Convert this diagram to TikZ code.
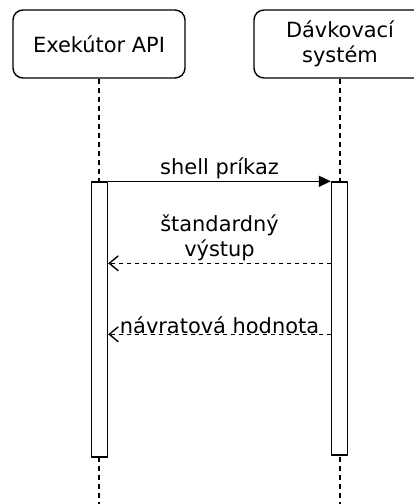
\documentclass[tikz,border=0pt]{standalone}
\usepackage{fontspec}
\setmainfont{DejaVu Sans}
\usetikzlibrary{arrows.meta}
\usetikzlibrary{shapes}

\tikzset{
  actor/.style={draw,rectangle,rounded corners=10bp,line width=1.4bp,minimum width=172bp,minimum height=68bp,align=center,font=\fontsize{21}{25}\selectfont},
  lifeline/.style={line width=1.4bp,dash pattern=on 5bp off 4bp},
  activation/.style={draw,fill=white,rectangle,line width=1.4bp,minimum width=16bp,minimum height=275bp,inner sep=0pt},
  callmsg/.style={line width=1.4bp,-{Triangle[length=12bp,width=11bp]}},
  replymsg/.style={line width=1.4bp,dash pattern=on 4bp off 4bp,-{Straight Barb[length=9bp,width=15bp]}},
  msglabel/.style={align=center,font=\fontsize{21}{25}\selectfont,inner sep=2bp}
}

\begin{document}
\begin{tikzpicture}[line join=bevel]
\useasboundingbox (0bp,0bp) rectangle (414bp,504bp);
\clip (0bp,0bp) rectangle (414bp,504bp);
%%
  \node (Exekutor) at (99.0bp,460.0bp) [actor] {Exekútor API};
  \node (Davkovac) at (340.0bp,460.0bp) [actor] {Dávkovací\\systém};
  \coordinate (ExekutorEnd) at (99.0bp,0.0bp);
  \coordinate (DavkovacEnd) at (340.0bp,0.0bp);
  \draw [lifeline] (Exekutor.south) -- (ExekutorEnd);
  \draw [lifeline] (Davkovac.south) -- (DavkovacEnd);
  \node (ExekutorBar) at (99.5bp,184.5bp) [activation] {};
  \node (DavkovacBar) at (339.5bp,185.5bp) [activation,minimum height=273bp] {};
  \draw [callmsg] (ExekutorBar.north east) -- (DavkovacBar.north west)
    node [msglabel,midway,above=0bp] {shell príkaz};
  \draw [replymsg] ([yshift=-82bp]DavkovacBar.north west) -- ([yshift=-82bp]ExekutorBar.north east)
    node [msglabel,midway,above=0bp] {štandardný\\výstup};
  \draw [replymsg] ([yshift=-153bp]DavkovacBar.north west) -- ([yshift=-153bp]ExekutorBar.north east)
    node [msglabel,midway,above=-2bp] {návratová hodnota};
%
\end{tikzpicture}
\end{document}
